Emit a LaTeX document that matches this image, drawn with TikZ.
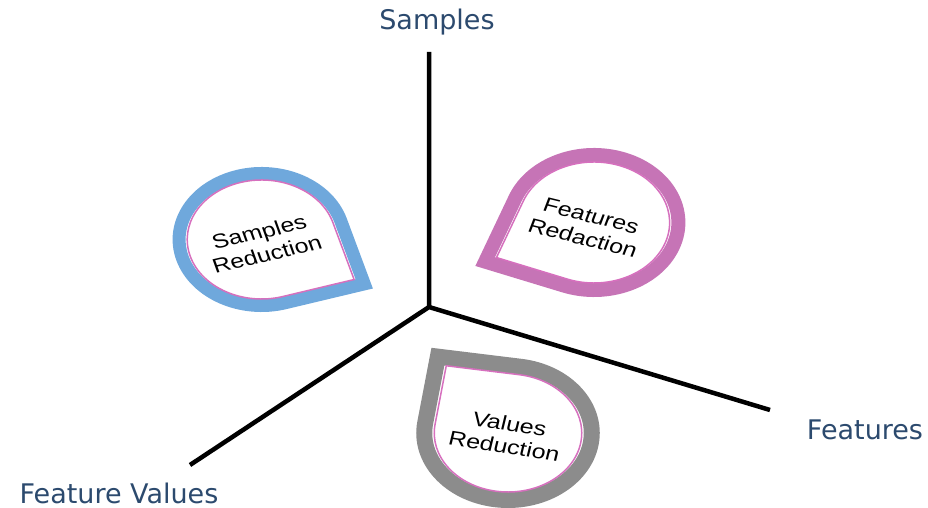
\documentclass[tikz,border=0pt]{standalone}
\usepackage{fontspec}
\usetikzlibrary{calc}
\newfontfamily\axisfont{DejaVu Sans}
\newfontfamily\dropfont{Liberation Sans}
\definecolor{axisblue}{RGB}{44,74,110}
\definecolor{dropblue}{RGB}{111,168,220}
\definecolor{droppink}{RGB}{198,116,182}
\definecolor{dropgray}{RGB}{140,140,140}
\definecolor{rimpink}{RGB}{214,112,190}

% teardrop round the origin: radius, tip angle (square tip)
\newcommand{\teardrop}[2]{({#2+45}:#1) arc[start angle={#2+45}, delta angle=270, radius=#1] -- (#2:{#1*1.4142}) -- cycle}

\tikzset{
  inner rim/.style={draw=rimpink, line width=1.5pt, fill=white},
  droptext/.style={font=\dropfont\fontsize{20}{23}\selectfont, align=center, xscale=1.25},
  axislabel/.style={font=\axisfont\fontsize{27}{30}\selectfont, text=axisblue},
}

\begin{document}
\begin{tikzpicture}[x=1pt,y=1pt]
\useasboundingbox (0,0) rectangle (928,508);
% axes
\coordinate (O) at (429,201);
\coordinate (samples end) at (429,456);
\coordinate (features end) at (770,98);
\coordinate (values end) at (190,43);
\draw[line width=4.5pt] (samples end) -- (O) (O) -- (features end) (O) -- (values end);
\node[axislabel] (samples) at (437,486) {Samples};
\node[axislabel] (features) at (865,78) {Features};
\node[axislabel] (values) at (119,15) {Feature Values};

% drops (stretched sideways like the slide)
\begin{scope}[shift={(261.6,268.5)}, xscale=1.25]
\draw[dropblue, line width=13pt, line join=miter] \teardrop{66}{-28.4};
\draw[inner rim] \teardrop{59.5}{-28.4};
\end{scope}
\begin{scope}[shift={(594,285.5)}, xscale=1.25]
\draw[droppink, line width=14pt, line join=miter] \teardrop{67.5}{204.2};
\draw[inner rim] \teardrop{60.5}{204.2};
\end{scope}
\begin{scope}[shift={(508,75)}, xscale=1.25]
\draw[dropgray, line width=16pt, line join=miter] \teardrop{67}{126.3};
\draw[inner rim] \teardrop{59}{126.3};
\end{scope}

\node[droptext, rotate=16] (samples red) at (263,265) {Samples\\Reduction};
\node[droptext, rotate=-17] (features red) at (587,281) {Features\\Redaction};
\node[droptext, rotate=-11] (values red) at (507,73) {Values\\Reduction};
\end{tikzpicture}
\end{document}
